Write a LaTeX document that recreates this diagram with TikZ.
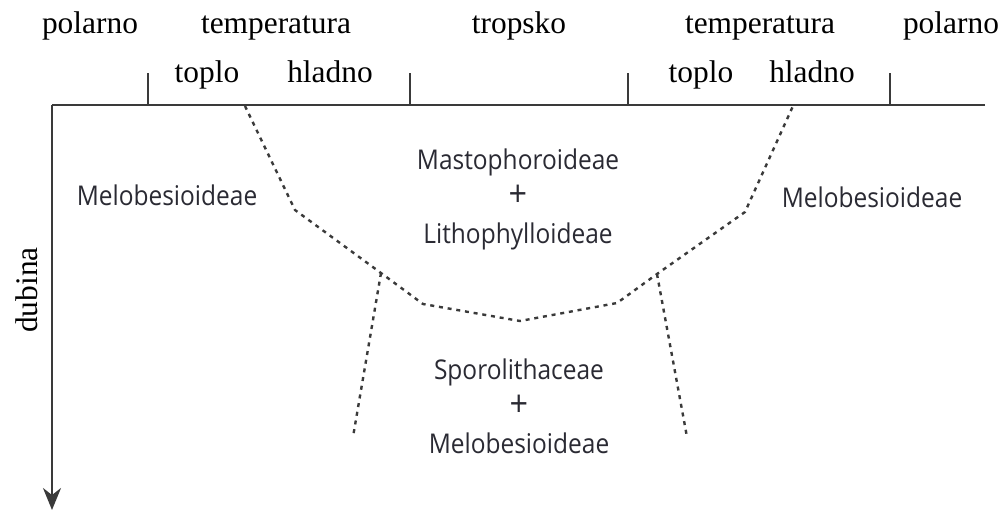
\documentclass[tikz,border=0pt]{standalone}
\usepackage{fontspec}
\setmainfont{Liberation Serif}
\setsansfont[FakeStretch=0.9]{Open Sans}
\usetikzlibrary{arrows.meta}
\definecolor{crta}{HTML}{3A3A3A}
\definecolor{slova}{HTML}{2A2A33}

\begin{document}
\begin{tikzpicture}[x=0.5pt,y=-0.5pt]
	\tikzstyle{zona}=[font=\fontsize{15.7}{18}\selectfont, inner sep=0pt, anchor=base]
	\tikzstyle{rod}=[font=\sffamily\fontsize{13.6}{18.5}\selectfont, text=slova, inner sep=0pt, align=center]
	\tikzstyle{os}=[draw=crta, line width=1pt]
	\tikzstyle{granica}=[draw=crta, line width=1.2pt, dash pattern=on 2pt off 2.4pt]
	
	\useasboundingbox (0,0) rectangle (1003,516);
	
	% osi
	\coordinate (ishodiste) at (52,105);
	\coordinate (kraj) at (985,105);
	\coordinate (dno) at (52,510);
	\draw[os] (kraj) -- (ishodiste);
	\draw[os, -{Stealth[length=11pt,width=9pt,inset=3.5pt]}] (ishodiste) -- (dno);
	\foreach \x/\ime in {148/t1, 410/t2, 628/t3, 890/t4}{
		\coordinate (\ime) at (\x,105);
		\draw[os] (\ime) -- ++(0,-32);
	}
	
	% zone
	\node[zona] (pol1) at (90,33) {polarno};
	\node[zona] (temp1) at (276,33) {temperatura};
	\node[zona] (trop) at (519,33) {tropsko};
	\node[zona] (temp2) at (760,33) {temperatura};
	\node[zona] (pol2) at (951,33) {polarno};
	\node[zona] (top1) at (207,82) {toplo};
	\node[zona] (hla1) at (330,82) {hladno};
	\node[zona] (top2) at (701,82) {toplo};
	\node[zona] (hla2) at (812,82) {hladno};
	\node[zona, anchor=center, rotate=90] (dub) at (27,290) {dubina};
	
	% granice
	\coordinate (a1) at (245,106);
	\coordinate (a2) at (295,210);
	\coordinate (a3) at (381,273);
	\coordinate (a4) at (423,304);
	\coordinate (a5) at (520,321);
	\coordinate (a6) at (617,303);
	\coordinate (a7) at (657,274);
	\coordinate (a8) at (745,212);
	\coordinate (a9) at (793,106);
	\coordinate (b1) at (353,437);
	\coordinate (b2) at (687,437);
	\draw[granica] (a1) -- (a2) -- (a3) -- (a4) -- (a5) -- (a6) -- (a7) -- (a8) -- (a9);
	\draw[granica] (a3) -- (b1);
	\draw[granica] (a7) -- (b2);
	
	% rodovi
	\node[rod] (mel1) at (167,195) {Melobesioideae};
	\node[rod] (mel2) at (872,197) {Melobesioideae};
	\node[rod] (masto) at (518,199) {Mastophoroideae\\{\fontsize{18}{18.5}\selectfont +}\\Lithophylloideae};
	\node[rod] (sporo) at (519,406) {Sporolithaceae\\{\fontsize{18}{18.5}\selectfont +}\\Melobesioideae};
\end{tikzpicture}
\end{document}
